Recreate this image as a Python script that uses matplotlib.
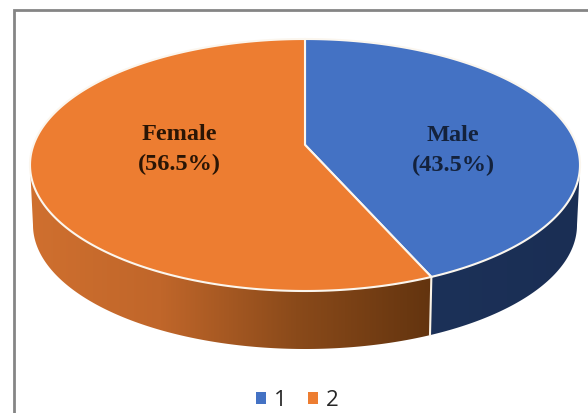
import numpy as np
import matplotlib
matplotlib.use("Agg")
import matplotlib.pyplot as plt
from matplotlib.patches import Polygon, Patch
from matplotlib.colors import LinearSegmentedColormap

# data
categories = ["1", "2"]
slice_names = ["Male", "Female"]
shares = [43.5, 56.5]
top_colors = ["#4472C4", "#ED7D31"]

W, H = 588, 413
fig = plt.figure(figsize=(W / 100, H / 100), dpi=100, facecolor="white")
ax = fig.add_axes([0, 0, 1, 1])
ax.set_axis_off()

CX, CY, RX, RY = 305, 165, 275, 126
BX, BY, BRX, BRY = 305, 225, 272, 124
A = 0.16  # perspective


def project(deg, cx, cy, rx, ry):
    t = np.radians(deg)
    x, y = np.sin(t), np.cos(t)
    d = 1 + A * y
    return cx + rx * x * np.sqrt(1 - A ** 2) / d, cy - ry * (y + A) / d


def rim(d0, d1, top=True):
    d = np.linspace(d0, d1, 300)
    return np.column_stack(project(d, CX, CY, RX, RY) if top else project(d, BX, BY, BRX, BRY))


split = 360 * shares[0] / sum(shares)
apex = (CX, CY - RY * A)
tangent = np.degrees(np.arccos(-A))  # where the rim is widest


def side(d0, d1, cols, extent):
    poly = np.vstack([rim(d0, d1), rim(d1, d0, False)])
    cmap = LinearSegmentedColormap.from_list("s", cols)
    im = ax.imshow(np.linspace(0, 1, 256)[None, :], cmap=cmap, extent=extent, aspect="auto", zorder=1)
    im.set_clip_path(Polygon(poly, closed=True, transform=ax.transData))


side(split, 360 - tangent, ["#63340F", "#8A4A1A", "#C0662A", "#D0702F"], (432, 25, 360, 150))
side(tangent, split, ["#1C3158", "#1A2E54"], (430, 585, 360, 150))

# divider on the side
j_top = rim(split, split, True)[0]
j_bot = rim(split, split, False)[0]
ax.plot([j_top[0], j_bot[0]], [j_top[1], j_bot[1]], color="#FBF3E6", lw=1.5, zorder=2)

# top face
starts = [0, split]
ends = [split, 360]
for s, e, c in zip(starts, ends, top_colors):
    pts = np.vstack([[apex], rim(s, e)])
    ax.add_patch(Polygon(pts, closed=True, facecolor=c, edgecolor="#FBF6EE", lw=1.5, zorder=3, joinstyle="round"))

ax.text(179, 150, f"{slice_names[1]}\n({shares[1]}%)", ha="center", va="center",
        family="Liberation Serif", weight="bold", fontsize=17.5, color="#2A1505", linespacing=1.55, zorder=5)
ax.text(453, 151, f"{slice_names[0]}\n({shares[0]}%)", ha="center", va="center",
        family="Liberation Serif", weight="bold", fontsize=17.5, color="#14223C", linespacing=1.55, zorder=5)

# frame
ax.plot([14, 14, W], [H, 10, 10], color="#858585", lw=2, zorder=6, solid_joinstyle="miter")

ax.set_xlim(0, W)
ax.set_ylim(H, 0)

handles = [Patch(facecolor=c, edgecolor="none") for c in top_colors]
ax.legend(handles, categories, loc="center", bbox_to_anchor=(297.5 / W, 1 - 400 / H), ncol=2, frameon=False,
          prop={"family": "Open Sans", "size": 16}, handlelength=0.45, handleheight=0.45, handletextpad=0.37,
          columnspacing=0.94, labelcolor="#262626")

fig.savefig("out.png", dpi=100, facecolor="white")
